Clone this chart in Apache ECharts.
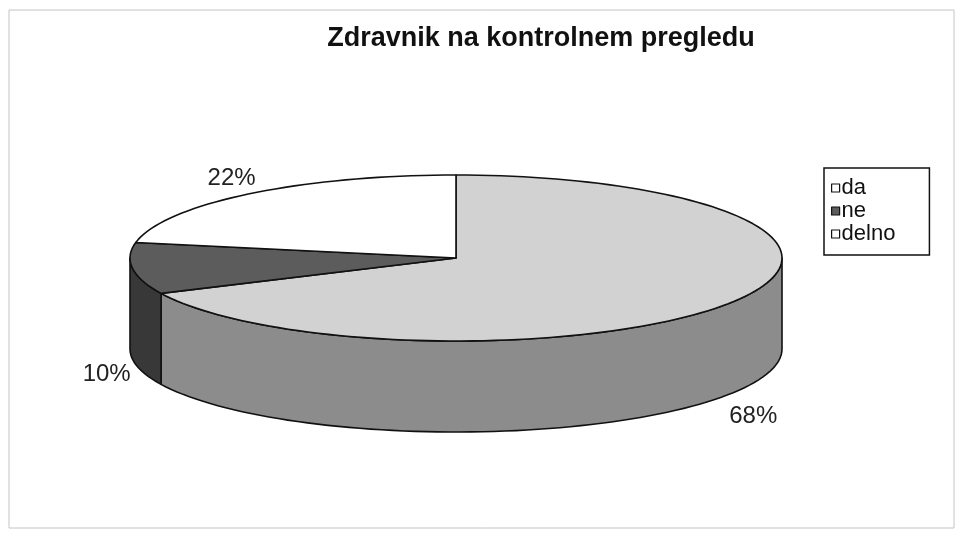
<!DOCTYPE html>
<html>
<head>
<meta charset="utf-8">
<title>Zdravnik na kontrolnem pregledu</title>
<script src="https://cdn.jsdelivr.net/npm/echarts@6/dist/echarts.min.js"></script>
<style>
  html, body { margin: 0; padding: 0; background: #fff; }
  #chart { width: 961px; height: 533px; }
</style>
</head>
<body>
<div id="chart"></div>
<script>
// podatki
const categories = ['da', 'ne', 'delno'];
const values = [68, 10, 22];
const pctLabels = ['68%', '10%', '22%'];

// barve (zgornja ploskev / stranica)
const topColors = ['#d2d2d2', '#5c5c5c', '#ffffff'];
const sideColors = ['#8c8c8c', '#383838', '#cfcfcf'];

// geometrija 3D torte
const cx = 456, cy = 258, rx = 326, ry = 83, depth = 91;

const total = values.reduce((a, b) => a + b, 0);
const starts = [];
let acc = 0;
values.forEach(v => { starts.push(acc / total * 360); acc += v; });

function pt(deg, dy) {
  const r = deg * Math.PI / 180;
  return [cx + rx * Math.sin(r), cy - ry * Math.cos(r) + (dy || 0)];
}

function arc(a, b, dy) {
  const pts = [];
  const n = Math.max(2, Math.ceil((b - a) / 2));
  for (let i = 0; i <= n; i++) pts.push(pt(a + (b - a) * i / n, dy));
  return pts;
}

function renderItem(params, api) {
  const i = params.dataIndex;
  const a = starts[i];
  const b = a + api.value(0) / total * 360;
  const children = [];

  // stranica (vidna samo spredaj, med 90 in 270 stopinj)
  const sa = Math.max(a, 90), sb = Math.min(b, 270);
  if (sb > sa) {
    const top = arc(sa, sb, 0);
    const bottom = arc(sa, sb, depth).reverse();
    children.push({
      type: 'polygon',
      shape: { points: top.concat(bottom) },
      style: { fill: sideColors[i], stroke: '#111', lineWidth: 1.6, lineJoin: 'round' },
      z2: 1
    });
  }

  // zgornja ploskev
  children.push({
    type: 'polygon',
    shape: { points: [[cx, cy]].concat(arc(a, b, 0)) },
    style: { fill: topColors[i], stroke: '#111', lineWidth: 1.6, lineJoin: 'round' },
    z2: 2
  });

  // oznaka odstotka
  const m = (a + b) / 2;
  const mr = m * Math.PI / 180;
  const c = Math.cos(mr);
  children.push({
    type: 'text',
    x: cx + rx * 1.08 * Math.sin(mr),
    y: cy - ry * 1.25 * c + (c < 0 ? depth + 12 : 0),
    style: {
      text: pctLabels[i],
      fontFamily: 'Liberation Sans, Arial, sans-serif',
      fontSize: 24,
      fill: '#222',
      align: 'center',
      verticalAlign: 'middle'
    },
    z2: 3
  });

  return { type: 'group', children: children };
}

const chart = echarts.init(document.getElementById('chart'), null, { renderer: 'canvas' });

const option = {
  backgroundColor: '#fff',
  animation: false,
  title: {
    text: 'Zdravnik na kontrolnem pregledu',
    left: 541,
    textAlign: 'center',
    top: 25,
    padding: 0,
    textStyle: {
      fontFamily: 'Liberation Sans, Arial, sans-serif',
      fontWeight: 'bold',
      fontSize: 27,
      color: '#111'
    }
  },
  legend: {
    data: categories,
    orient: 'vertical',
    left: 824,
    top: 168,
    padding: [9, 34, 10, 7],
    borderColor: '#111',
    borderWidth: 1.5,
    icon: 'rect',
    itemWidth: 8,
    itemHeight: 8,
    itemGap: 1,
    selectedMode: false,
    itemStyle: { borderColor: '#111', borderWidth: 1.2 },
    textStyle: {
      fontFamily: 'Liberation Sans, Arial, sans-serif',
      fontSize: 22,
      color: '#111',
      padding: [0, 0, 0, -3]
    }
  },
  graphic: [{
    type: 'rect',
    shape: { x: 9, y: 10, width: 945, height: 518 },
    style: { fill: 'none', stroke: '#c4c4c4', lineWidth: 1 },
    z: -1
  }],
  series: [
    {
      // samo za legendo
      type: 'pie',
      name: 'legenda',
      radius: [0, 0],
      silent: true,
      label: { show: false },
      labelLine: { show: false },
      data: categories.map((c, i) => ({ name: c, value: values[i], itemStyle: { color: i === 1 ? topColors[1] : '#fff' } }))
    },
    {
      type: 'custom',
      name: 'torta',
      coordinateSystem: 'none',
      renderItem: renderItem,
      data: values.map(v => [v])
    }
  ]
};

chart.setOption(option);
</script>
</body>
</html>
